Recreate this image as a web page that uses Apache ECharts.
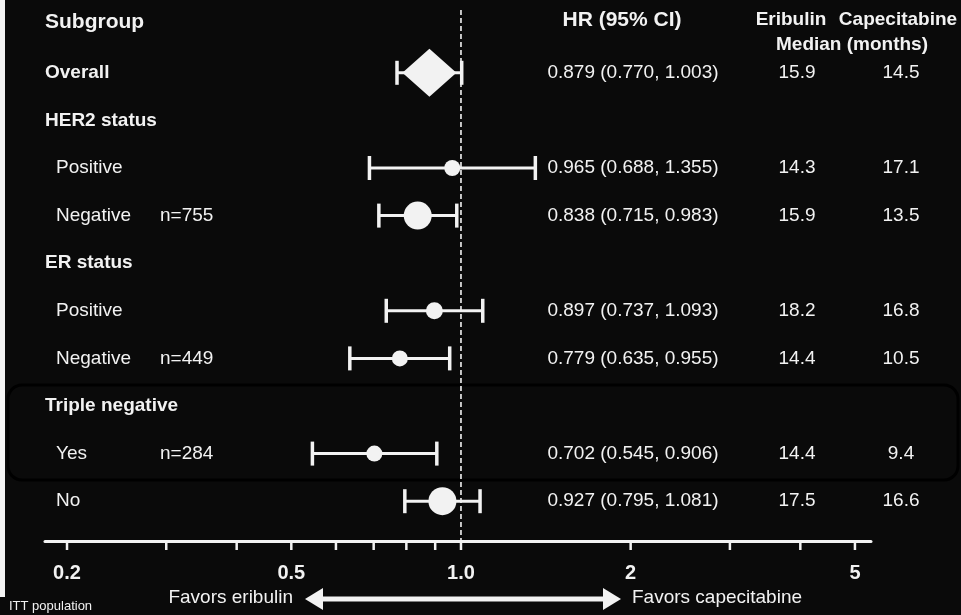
<!DOCTYPE html>
<html><head><meta charset="utf-8">
<script src="https://cdn.jsdelivr.net/npm/echarts@6/dist/echarts.min.js"></script>
<style>html,body{margin:0;padding:0;background:#0a0a0a;}#c{width:961px;height:615px;}</style>
</head><body><div id="c"></div>
<script>
// ---------------- data ----------------
const rowLabels = ['Overall', 'HER2 status', 'Positive', 'Negative', 'ER status', 'Positive', 'Negative', 'Triple negative', 'Yes', 'No'];
const rowIsHeader = [true, true, false, false, true, false, false, true, false, false];
const nLabels = ['', '', '', 'n=755', '', '', 'n=449', '', 'n=284', ''];
const hrValues = [0.879, null, 0.965, 0.838, null, 0.897, 0.779, null, 0.702, 0.927];
const ciLower = [0.770, null, 0.688, 0.715, null, 0.737, 0.635, null, 0.545, 0.795];
const ciUpper = [1.003, null, 1.355, 0.983, null, 1.093, 0.955, null, 0.906, 1.081];
const hrText = ['0.879 (0.770, 1.003)', '', '0.965 (0.688, 1.355)', '0.838 (0.715, 0.983)', '', '0.897 (0.737, 1.093)', '0.779 (0.635, 0.955)', '', '0.702 (0.545, 0.906)', '0.927 (0.795, 1.081)'];
const medianEribulin = ['15.9', '', '14.3', '15.9', '', '18.2', '14.4', '', '14.4', '17.5'];
const medianCapecitabine = ['14.5', '', '17.1', '13.5', '', '16.8', '10.5', '', '9.4', '16.6'];
const tickValues = [0.2, 0.3, 0.4, 0.5, 0.6, 0.7, 0.8, 0.9, 1, 2, 3, 4, 5];
const tickLabelValues = [0.2, 0.5, 1, 2, 5];
const tickLabelText = ['0.2', '0.5', '1.0', '2', '5'];
const referenceHR = 1;

// ---------------- styles ----------------
const FONT = '"Liberation Sans", Arial, sans-serif';
const TXT = '#f2f2f2';
const BG = '#0a0a0a';
const AXIS_Y = 541;
// marker radius per row (by sample size); 'diamond' for overall
const markerStyle = ['diamond', null, 8, 14, null, 8.5, 8, null, 8, 14];

const forestData = [];
hrValues.forEach((v, i) => { if (v != null) forestData.push([v, ciLower[i], ciUpper[i], i]); });

const chart = echarts.init(document.getElementById('c'), null, {renderer: 'canvas'});

function txt(text, x, y, font, align) {
  return {type: 'text', style: {text: text, x: x, y: y, fill: TXT, font: font, align: align || 'left', verticalAlign: 'middle'}};
}

const option = {
  backgroundColor: BG,
  animation: false,
  grid: {left: 45, right: 90, top: 49, bottom: 90},
  xAxis: {
    type: 'log', logBase: 10, min: 0.1828, max: 5.339, offset: 16,
    axisLine: {show: true, lineStyle: {color: TXT, width: 3}},
    axisTick: {show: false}, axisLabel: {show: false}, splitLine: {show: false}
  },
  yAxis: {type: 'category', data: rowLabels, inverse: true, show: false, boundaryGap: true},
  graphic: [
    {type: 'rect', left: 0, top: 0, shape: {x: 0, y: 0, width: 5, height: 597}, style: {fill: '#f4f4f4'}, silent: true},
    {type: 'rect', shape: {x: 8, y: 385, width: 950, height: 95, r: 14}, style: {fill: 'none', stroke: '#000', lineWidth: 3}, silent: true, z: 0},
    {type: 'text', style: {text: 'Subgroup', x: 45, y: 22, fill: TXT, font: 'bold 21px ' + FONT, verticalAlign: 'middle'}},
    {type: 'text', style: {text: 'HR (95% CI)', x: 622, y: 20, fill: TXT, font: 'bold 21px ' + FONT, align: 'center', verticalAlign: 'middle'}},
    {type: 'text', style: {text: 'Eribulin', x: 791, y: 20, fill: TXT, font: 'bold 19px ' + FONT, align: 'center', verticalAlign: 'middle'}},
    {type: 'text', style: {text: 'Capecitabine', x: 898, y: 20, fill: TXT, font: 'bold 19px ' + FONT, align: 'center', verticalAlign: 'middle'}},
    {type: 'text', style: {text: 'Median (months)', x: 852, y: 45, fill: TXT, font: 'bold 19px ' + FONT, align: 'center', verticalAlign: 'middle'}},
    {type: 'text', style: {text: 'Favors eribulin', x: 293, y: 598, fill: TXT, font: '19px ' + FONT, align: 'right', verticalAlign: 'middle'}},
    {type: 'text', style: {text: 'Favors capecitabine', x: 632, y: 598, fill: TXT, font: '19px ' + FONT, align: 'left', verticalAlign: 'middle'}},
    {type: 'text', style: {text: 'ITT population', x: 9, y: 606, fill: TXT, font: '13px ' + FONT, align: 'left', verticalAlign: 'middle'}},
    {type: 'line', shape: {x1: 318, y1: 599, x2: 608, y2: 599}, style: {stroke: TXT, lineWidth: 5}},
    {type: 'polygon', shape: {points: [[305, 599], [323, 588], [323, 610]]}, style: {fill: TXT}},
    {type: 'polygon', shape: {points: [[621, 599], [603, 588], [603, 610]]}, style: {fill: TXT}}
  ],
  series: [
    { // reference dashed line at HR = 1
      type: 'custom', clip: false, silent: true, z: 1,
      data: [[referenceHR, 0]],
      renderItem: function (params, api) {
        const x = api.coord([api.value(0), 0])[0];
        return {type: 'line', shape: {x1: x, y1: 10, x2: x, y2: AXIS_Y}, style: {stroke: TXT, lineWidth: 1.6, lineDash: [5, 3]}};
      }
    },
    { // axis ticks
      type: 'custom', clip: false, silent: true,
      data: tickValues.map(v => [v, 0]),
      renderItem: function (params, api) {
        const x = api.coord([api.value(0), 0])[0];
        return {type: 'line', shape: {x1: x, y1: AXIS_Y, x2: x, y2: AXIS_Y + 9}, style: {stroke: TXT, lineWidth: 2.5}};
      }
    },
    { // tick labels
      type: 'custom', clip: false, silent: true,
      data: tickLabelValues.map(v => [v, 0]),
      renderItem: function (params, api) {
        const x = api.coord([api.value(0), 0])[0];
        return txt(tickLabelText[params.dataIndex], x, 573, 'bold 20px ' + FONT, 'center');
      }
    },
    { // row texts
      type: 'custom', clip: false, silent: true,
      data: rowLabels.map((_, i) => [referenceHR, i]),
      renderItem: function (params, api) {
        const i = params.dataIndex;
        const y = api.coord([api.value(0), api.value(1)])[1];
        const children = [];
        if (rowIsHeader[i]) children.push(txt(rowLabels[i], 45, y, 'bold 19px ' + FONT, 'left'));
        else children.push(txt(rowLabels[i], 56, y, '19px ' + FONT, 'left'));
        if (nLabels[i]) children.push(txt(nLabels[i], 160, y, '19px ' + FONT, 'left'));
        if (hrText[i]) children.push(txt(hrText[i], 633, y, '19px ' + FONT, 'center'));
        if (medianEribulin[i]) children.push(txt(medianEribulin[i], 797, y, '19px ' + FONT, 'center'));
        if (medianCapecitabine[i]) children.push(txt(medianCapecitabine[i], 901, y, '19px ' + FONT, 'center'));
        return {type: 'group', children: children};
      }
    },
    { // forest marks
      type: 'custom', clip: false, silent: true, z: 3,
      data: forestData,
      encode: {x: [0, 1, 2], y: 3},
      renderItem: function (params, api) {
        const row = api.value(3);
        const c = api.coord([api.value(0), row]);
        const lo = api.coord([api.value(1), row])[0];
        const hi = api.coord([api.value(2), row])[0];
        const y = c[1];
        const st = {stroke: TXT, lineWidth: 3};
        const capSt = {stroke: TXT, lineWidth: 3.5};
        const children = [
          {type: 'line', shape: {x1: lo, y1: y, x2: hi, y2: y}, style: st},
          {type: 'line', shape: {x1: lo, y1: y - 12, x2: lo, y2: y + 12}, style: capSt},
          {type: 'line', shape: {x1: hi, y1: y - 12, x2: hi, y2: y + 12}, style: capSt}
        ];
        const m = markerStyle[row];
        if (m === 'diamond') {
          children.push({type: 'polygon', shape: {points: [[c[0] - 27, y], [c[0], y - 24], [c[0] + 27, y], [c[0], y + 24]]}, style: {fill: TXT}});
        } else {
          children.push({type: 'circle', shape: {cx: c[0], cy: y, r: m}, style: {fill: TXT}});
        }
        return {type: 'group', children: children};
      }
    }
  ]
};
chart.setOption(option);
</script>
</body></html>
